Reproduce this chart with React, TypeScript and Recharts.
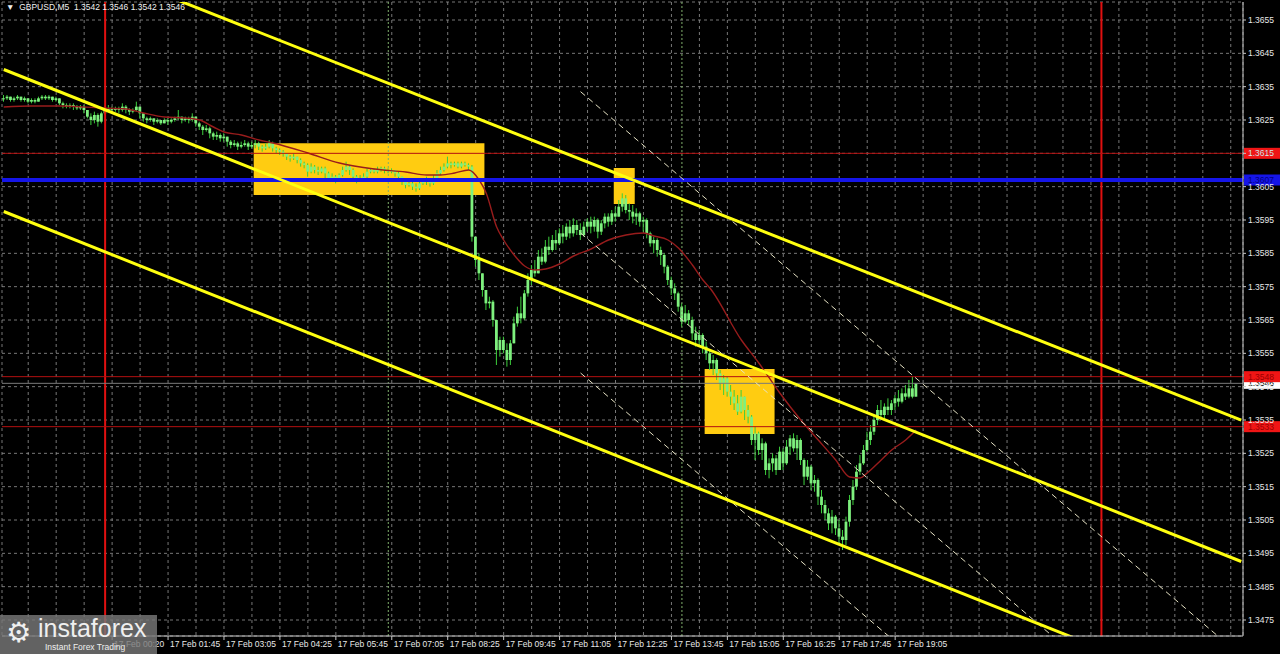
import React from "react";
import { Bar, CartesianGrid, ComposedChart, Line, ReferenceArea, ReferenceLine, XAxis, YAxis } from "recharts";

// GBPUSD M5, prices kept as pips above 1.3400
const BASE = 1.34;
const toPrice = (p: number) => +(BASE + p / 10000).toFixed(5);

const closePips = [
  231.5, 232, 231, 231.5, 232, 231, 231.5, 230.5,
  231, 230.5, 231.5, 232, 231.5, 232, 231, 231.5,
  230, 229.5, 229, 229.5, 229, 228.5, 229, 228,
  226, 225, 226.5, 224.5, 227, 228, 228.5, 228,
  228.5, 228, 229, 228, 227.5, 228, 229, 227,
  225.5, 225, 225.5, 224.5, 225, 224, 225, 224.5,
  225, 225.5, 226, 225, 225.5, 225, 226, 224,
  223, 222, 222.5, 221, 220, 220.5, 219.5, 220,
  218.5, 217.5, 218, 217, 217.5, 218, 217, 217.5,
  218, 217, 216.5, 217, 218, 216.5, 216, 215.5,
  215, 214, 213.5, 214, 213, 212, 211.5, 209.5,
  211, 210, 209.5, 210.5, 209, 207.5, 208, 207,
  208.5, 210, 211, 210, 208, 207, 207.5, 208,
  209.5, 210, 209.5, 210, 210.5, 210, 209.5, 210,
  209, 208, 206.5, 205.5, 206, 205, 204.5, 206,
  206.5, 207, 206, 207.5, 209, 210, 211, 212,
  211.5, 212, 211, 212, 211.5, 211, 190, 183,
  179, 174, 170, 170.5, 165, 156, 159, 156,
  153, 158, 164, 167, 165.5, 173, 177, 180,
  179, 184, 182.5, 187, 186, 189, 188, 191,
  190, 193, 191, 193.5, 192, 190.5, 193, 194.5,
  193, 195, 191.5, 194, 196, 194.5, 197, 196,
  199, 201.5, 198, 197.5, 196, 197, 194.5, 195,
  191, 188, 189, 186, 184.5, 181, 177, 174.5,
  173, 169, 164.5, 167, 165, 161, 159, 160.5,
  157, 155, 152, 153, 149, 146, 147.5, 143.5,
  142, 140, 137.5, 142, 138, 136, 129, 131,
  126, 128, 120, 122, 123.5, 120, 125.5, 122,
  127, 129.5, 126.5, 129, 123, 118, 121, 116,
  117, 112, 109.5, 107, 104, 106, 102.5, 100,
  99, 104.5, 111, 115, 119.5, 122, 126, 129,
  131.5, 135, 138, 136.5, 139, 138, 140, 141.5,
  140.5, 143, 142, 144.5, 142, 146,
];

const highPips = [
  232.5, 232.5, 232, 232, 232.5, 232, 232, 231.5,
  231.5, 231.5, 232, 232.5, 232.5, 232.5, 232, 232,
  231.5, 230.5, 230, 230, 230, 229.5, 229.5, 229.5,
  228, 227, 227.5, 227, 227.5, 229, 229.5, 229,
  229, 229, 230, 229.5, 228.5, 228.5, 230.5, 229,
  227, 226, 226, 225.5, 225.5, 225, 225.5, 225.5,
  225.5, 226, 228, 226, 226, 226, 227, 226,
  224.5, 223.5, 223.5, 223, 221.5, 221.5, 221, 221,
  220, 219, 219, 218.5, 218.5, 219, 218.5, 218.5,
  219, 218.5, 217.5, 218, 219, 218.5, 217, 216.5,
  216, 215, 214.5, 215, 214, 213.5, 212.5, 212,
  212, 211.5, 211, 211, 211, 209.5, 209, 208.5,
  209, 211, 212.5, 211.5, 210.5, 208.5, 208.5, 209,
  210.5, 210.5, 210.5, 211, 211, 211, 210.5, 210.5,
  210, 209.5, 208, 207, 207, 206.5, 206, 207,
  207.5, 208, 207.5, 208.5, 210, 211, 212, 214,
  212.5, 212.5, 212.5, 212.5, 212.5, 212, 211.5, 190,
  185, 179, 174, 172, 171, 165, 160, 160,
  158, 159, 166, 169, 172, 174, 179, 181.5,
  183, 186, 186.5, 189, 190, 190.5, 192, 192.5,
  193.5, 194, 195, 195.5, 195, 194, 194.5, 195.5,
  196, 196, 195.5, 195, 197, 197, 198, 199,
  201, 203, 202.5, 200, 199.5, 198.5, 197.5, 196,
  195.5, 191.5, 190, 189.5, 187, 185, 181.5, 178,
  176, 173.5, 170, 169.5, 168, 166, 163, 162,
  161, 158.5, 156, 154.5, 153.5, 150, 148.5, 148,
  145.5, 144, 142.5, 144, 142, 139.5, 136.5, 133,
  131.5, 129.5, 128.5, 123.5, 125, 124.5, 127, 126.5,
  129, 130.5, 131, 130.5, 129.5, 123.5, 123, 121.5,
  118.5, 117.5, 114, 111, 108.5, 108, 106.5, 105,
  102, 106, 112.5, 117, 121.5, 124.5, 127.5, 131.5,
  133.5, 136.5, 139.5, 141, 140, 141.5, 141, 142.5,
  144, 144.5, 145.5, 147, 148, 146,
];

const lowPips = [
  230.5, 231, 230.5, 230.5, 231, 230.5, 230.5, 230,
  230, 230, 230.5, 231, 231, 231, 230.5, 230.5,
  229.5, 228.5, 228.5, 228.5, 228, 228, 228, 227,
  225.5, 223.5, 224, 223, 224, 226.5, 227.5, 227,
  227.5, 227, 227.5, 227, 226.5, 227, 227.5, 225.5,
  224.5, 224, 224.5, 223.5, 224, 223.5, 224, 223.5,
  224, 224.5, 225, 224, 224.5, 224, 224.5, 223,
  222, 220.5, 221.5, 219.5, 219, 219, 218.5, 218.5,
  217, 216.5, 217, 216, 216.5, 217, 216, 216.5,
  216.5, 216, 215.5, 216, 216.5, 215.5, 215, 214.5,
  214, 213, 212.5, 213, 212, 211, 210.5, 208,
  209, 209, 208.5, 209, 207.5, 206.5, 206.5, 206,
  207, 208, 209.5, 208.5, 207, 206, 206.5, 207,
  207.5, 209, 209, 209, 209.5, 209, 209, 209,
  208, 206.5, 205.5, 204.5, 205, 204, 203.5, 204,
  205.5, 205.5, 205, 205.5, 207, 208.5, 209.5, 210.5,
  210.5, 211, 210.5, 210.5, 211, 210, 188.5, 181,
  177, 172, 168, 168.5, 163, 151.5, 154, 155,
  151, 151.5, 158, 163, 164, 165, 172, 175.5,
  178, 179, 181.5, 182, 184.5, 185.5, 186, 187.5,
  188, 189, 189.5, 190, 190.5, 189, 190, 191.5,
  191, 191.5, 189.5, 190.5, 192.5, 193, 193.5, 194.5,
  196, 197.5, 197, 195, 194, 193.5, 193, 191.5,
  189.5, 187, 185, 184, 181.5, 179, 175.5, 172.5,
  171, 167.5, 163, 164, 163.5, 159, 157, 157.5,
  155, 153, 150, 148.5, 147, 144, 142.5, 142,
  139.5, 138, 136.5, 137, 135, 134, 127.5, 123,
  124.5, 123, 118.5, 117.5, 119.5, 118.5, 120, 120,
  121.5, 124.5, 125.5, 123, 121.5, 115.5, 117, 114,
  113.5, 109.5, 107, 105, 102, 101, 100.5, 97.5,
  96, 97.5, 103, 109.5, 114, 118.5, 121.5, 125.5,
  127.5, 130.5, 133.5, 135, 135.5, 136.5, 136.5, 138,
  139, 140, 141, 141.5, 141.5, 142,
];

// moving average, read at a few bars
const maBars = [0, 8, 16, 28, 35, 40, 46, 52, 56, 60, 63, 68, 73, 77, 87, 96, 106, 115, 121, 125, 129, 133, 136, 138, 141, 143, 146, 149, 152, 155, 159, 163, 168, 173, 178, 183, 186, 190, 193, 197, 200, 202, 211, 216, 222, 228, 233, 238, 242, 245, 247, 251, 254, 258, 261];
const maPips = [228.9, 229.2, 229.2, 228.6, 228.3, 227.1, 225.9, 225.6, 225, 222.9, 221.4, 220.5, 219, 218.1, 215.1, 212.1, 210.3, 209.4, 208.5, 208.5, 209.1, 210, 207, 203.1, 192.9, 189, 184.5, 181.2, 180, 180.3, 181.8, 184.2, 186.3, 189, 190.5, 191.1, 190.2, 189, 186.6, 181.5, 177, 174.6, 159, 152.1, 143.1, 135, 129, 123, 117.9, 117.6, 119.1, 123, 126, 129, 132];

const tickBars = [31, 47, 63, 79, 95, 111, 127, 143, 159, 175, 191, 207, 223, 239, 255];
const tickLabels = [
  "17 Feb 00:20", "17 Feb 01:45", "17 Feb 03:05", "17 Feb 04:25", "17 Feb 05:45",
  "17 Feb 07:05", "17 Feb 08:25", "17 Feb 09:45", "17 Feb 11:05", "17 Feb 12:25",
  "17 Feb 13:45", "17 Feb 15:05", "17 Feb 16:25", "17 Feb 17:45", "17 Feb 19:05",
];
const gridBars = [7, 15, 23, 31, 39, 47, 55, 63, 71, 79, 87, 95, 103, 111, 119, 127, 135, 143, 151, 159, 167, 175, 183, 191, 199, 207, 215, 223, 231, 239, 247, 255, 263, 271, 279, 287, 295, 303, 311, 319, 327, 335, 343, 351];
const priceTicks = [1.3475, 1.3485, 1.3495, 1.3505, 1.3515, 1.3525, 1.3535, 1.3545, 1.3555, 1.3565, 1.3575, 1.3585, 1.3595, 1.3605, 1.3615, 1.3625, 1.3635, 1.3645, 1.3655];

// drawn objects
const redLevels = [1.3615, 1.3548, 1.3533];
const blueLevel = 1.3607;
const bidLevel = 1.3546;
const zoneFrom = [72, 175, 201];
const zoneTo = [137, 180, 220];
const zoneLow = [1.36025, 1.35998, 1.35308];
const zoneHigh = [1.3618, 1.36106, 1.35503];
const channelLines = [
  [[0, 1.368158], [354, 1.353494]],
  [[0, 1.364015], [354, 1.349255]],
  [[0, 1.359755], [354, 1.344962]],
];
const fanLines = [
  [[165, 1.36335], [354, 1.34642]],
  [[165, 1.35911], [354, 1.34218]],
  [[165, 1.35491], [354, 1.33798]],
];
const redVerticals = [29, 314];
const sessionVerticals = [110, 194];

const SLOTS = 355;
const FONT = "'Liberation Sans', Arial, sans-serif";

const maAt = new Map(maBars.map((b, k) => [b, toPrice(maPips[k])]));
const rows = Array.from({ length: SLOTS }, (_, i) => {
  const has = i < closePips.length;
  const open = i === 0 ? closePips[0] : closePips[i - 1];
  return {
    i,
    range: has ? [toPrice(lowPips[i]), toPrice(highPips[i])] : null,
    open: has ? toPrice(open) : null,
    close: has ? toPrice(closePips[i]) : null,
    high: has ? toPrice(highPips[i]) : null,
    low: has ? toPrice(lowPips[i]) : null,
    ma: maAt.has(i) ? maAt.get(i) : null,
  };
});
const last = rows[closePips.length - 1];

function Candle(props: any) {
  const { x, y, width, height, payload } = props;
  if (!payload || payload.high == null) return null;
  const cx = x + width / 2;
  const span = payload.high - payload.low;
  const yOf = (p: number) => (span > 0 ? y + ((payload.high - p) / span) * height : y);
  const top = yOf(Math.max(payload.open, payload.close));
  const bottom = yOf(Math.min(payload.open, payload.close));
  return (
    <g>
      <line x1={cx} x2={cx} y1={y} y2={y + height} stroke="#3ccf3c" strokeWidth={1} />
      <rect x={cx - 1.4} y={top} width={2.8} height={Math.max(bottom - top, 1)} fill="#7ef07e" />
    </g>
  );
}

function TimeTick(props: any) {
  const { x, y, payload } = props;
  const k = tickBars.indexOf(payload.value);
  if (k < 0) return null;
  return (
    <g>
      <line x1={x} x2={x} y1={y} y2={y + 4} stroke="#c8c8c8" />
      <text x={x + 2} y={y + 11} fill="#e8e8e8" fontSize={8.5} fontFamily={FONT}>
        {tickLabels[k]}
      </text>
    </g>
  );
}

function PriceTag({ viewBox, text, bg, fg }: any) {
  if (!viewBox) return null;
  const x = viewBox.x + viewBox.width + 1;
  const y = viewBox.y;
  return (
    <g>
      <rect x={x} y={y - 5.5} width={36} height={11} fill={bg} />
      <text x={x + 4} y={y + 3} fill={fg} fontSize={8.5} fontFamily={FONT}>
        {text}
      </text>
    </g>
  );
}

export default function App() {
  return (
    <div style={{ position: "absolute", left: 0, top: 0, width: 1280, height: 654, background: "#000", overflow: "hidden" }}>
      <ComposedChart width={1280} height={654} data={rows} margin={{ top: 2, right: 0, bottom: 0, left: 2 }} barCategoryGap={0}>
        <CartesianGrid stroke="#969696" strokeDasharray="3 3" strokeWidth={0.8} />
        <XAxis
          dataKey="i"
          type="category"
          ticks={gridBars}
          interval={0}
          height={18}
          tickSize={0}
          tickMargin={0}
          tick={<TimeTick />}
          stroke="#c8c8c8"
        />
        <YAxis
          orientation="right"
          type="number"
          width={37}
          domain={[1.34702, 1.36604]}
          allowDataOverflow
          ticks={priceTicks}
          tickFormatter={(v: number) => v.toFixed(4)}
          tickSize={3}
          tickMargin={2}
          tick={{ fill: "#e8e8e8", fontSize: 8.5, fontFamily: FONT }}
          stroke="#c8c8c8"
        />
        {zoneFrom.map((x1, k) => (
          <ReferenceArea key={"z" + k} x1={x1} x2={zoneTo[k]} y1={zoneLow[k]} y2={zoneHigh[k]} fill="#ffcc11" fillOpacity={1} stroke="none" />
        ))}
        {sessionVerticals.map((b) => (
          <ReferenceLine key={"s" + b} x={b} stroke="#7fae6a" strokeDasharray="2 2" />
        ))}
        {redVerticals.map((b) => (
          <ReferenceLine key={"r" + b} x={b} stroke="#e01010" strokeWidth={2} />
        ))}
        <Bar dataKey="range" shape={<Candle />} isAnimationActive={false} />
        <Line dataKey="ma" type="monotone" stroke="#981c1c" strokeWidth={1.4} dot={false} connectNulls isAnimationActive={false} />
        <ReferenceLine
          y={bidLevel}
          stroke="#7a7a7a"
          label={{ content: (p: any) => <PriceTag viewBox={p.viewBox} text={bidLevel.toFixed(4)} bg="#ffffff" fg="#000000" /> }}
        />
        {redLevels.map((lv) => (
          <ReferenceLine
            key={"l" + lv}
            y={lv}
            stroke="#b41010"
            label={{ content: (p: any) => <PriceTag viewBox={p.viewBox} text={lv.toFixed(4)} bg="#f01515" fg="#9a0000" /> }}
          />
        ))}
        <ReferenceLine
          y={blueLevel}
          stroke="#1515e8"
          strokeWidth={4}
          label={{ content: (p: any) => <PriceTag viewBox={p.viewBox} text={blueLevel.toFixed(4)} bg="#1515e8" fg="#000080" /> }}
        />
        {fanLines.map((seg, k) => (
          <ReferenceLine
            key={"f" + k}
            segment={seg.map(([b, p]) => ({ x: b, y: p }))}
            stroke="#e6e2c4"
            strokeDasharray="6 4"
            strokeWidth={1}
            ifOverflow="hidden"
          />
        ))}
        {channelLines.map((seg, k) => (
          <ReferenceLine
            key={"c" + k}
            segment={seg.map(([b, p]) => ({ x: b, y: p }))}
            stroke="#ffff10"
            strokeWidth={3}
            ifOverflow="hidden"
          />
        ))}
      </ComposedChart>
      <div style={{ position: "absolute", left: 6, top: 2, color: "#f0f0f0", fontSize: 8.5, fontFamily: FONT, whiteSpace: "pre" }}>
        {"\u25BC  GBPUSD,M5  " + [last.open, last.high, last.low, last.close].map((v) => (v as number).toFixed(4)).join(" ")}
      </div>
      <div style={{ position: "absolute", left: 0, top: 615, width: 157, height: 39, background: "rgba(120,120,120,0.82)", fontFamily: FONT, color: "#efefef" }}>
        <div style={{ position: "absolute", left: 6, top: 2, fontSize: 28, lineHeight: "32px", fontFamily: "'DejaVu Sans'" }}>{"\u2699"}</div>
        <div style={{ position: "absolute", left: 38, top: -1, fontSize: 25, lineHeight: "28px" }}>instaforex</div>
        <div style={{ position: "absolute", left: 45, top: 27, fontSize: 8.5 }}>Instant Forex Trading</div>
      </div>
    </div>
  );
}
